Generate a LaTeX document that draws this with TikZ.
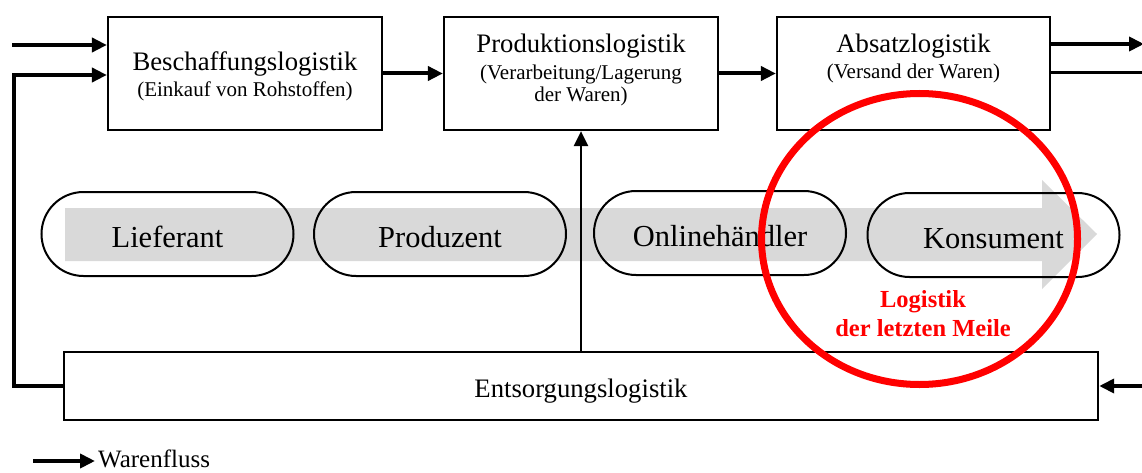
\documentclass[tikz,border=0pt]{standalone}
\usepackage{fontspec}
\setmainfont{Liberation Serif}
\usetikzlibrary{arrows.meta}
\definecolor{bandgray}{HTML}{D9D9D9}
\definecolor{markred}{HTML}{FF0000}
\newcommand\hdfnt{\fontsize{26.7}{30}\selectfont}
\newcommand\subfnt{\fontsize{21}{22}\selectfont}
\newcommand\pillfnt{\fontsize{30.5}{34}\selectfont}
\newcommand\redfnt{\fontsize{24.5}{29}\selectfont\bfseries}

\begin{document}
\begin{tikzpicture}[x=1pt,y=-1pt,
  box/.style={draw,line width=2.2pt,minimum width=#1,minimum height=113pt,inner sep=0pt},
  pill/.style={draw,line width=2pt,rounded corners=42pt,minimum width=252pt,
    minimum height=84pt,inner sep=0pt,text height=26pt,text depth=0pt,font=\pillfnt},
  head/.style={anchor=base,inner sep=0pt,font=\hdfnt},
  sub/.style={anchor=base,inner sep=0pt,font=\subfnt},
  flow/.style={line width=4pt,-{Triangle[length=15pt,width=14pt]}},
  thinflow/.style={line width=2.7pt,-{Triangle[length=15pt,width=14pt]}},
  link/.style={line width=3pt}]

\useasboundingbox (0,0) rectangle (1142,473);

% grey band arrow behind the actors
\fill[bandgray] (65,208) -- (1042,208) -- (1042,180) -- (1097,234)
  -- (1042,289) -- (1042,261) -- (65,261) -- cycle;

% logistics boxes
\node[box=274pt] (b1) at (245,73.5) {};
\node[box=274pt] (b2) at (581,73.5) {};
\node[box=273pt] (b3) at (913.5,73.5) {};
\node[head] (b1t) at (245,71) {Beschaffungslogistik};
\node[sub]  (b1s) at (245,97) {(Einkauf von Rohstoffen)};
\node[head] (b2t) at (581,53) {Produktionslogistik};
\node[sub]  (b2s) at (581,80) {(Verarbeitung/Lagerung};
\node[sub]  (b2u) at (581,102) {der Waren)};
\node[head] (b3t) at (913.5,53) {Absatzlogistik};
\node[sub]  (b3s) at (913.5,79) {(Versand der Waren)};

% disposal box
\node[draw,line width=2.4pt,minimum width=1034pt,minimum height=68pt,inner sep=0pt,
  text height=22pt,text depth=0pt,font=\hdfnt] (e) at (581,386) {Entsorgungslogistik};

% actors
\node[pill] (p1) at (167.5,234) {Lieferant};
\node[pill] (p2) at (440,234) {Produzent};
\node[pill] (p3) at (720,233) {Onlinehändler};
\node[pill] (p4) at (993.5,235) {Konsument};

% free ends of the flows
\coordinate (in1)  at (12,45);
\coordinate (out1) at (1144,44);
\coordinate (out2) at (1142,73);
\coordinate (ret)  at (1142,386);
\coordinate (lc1)  at (14,386);
\coordinate (lc2)  at (14,75);

% flows between the boxes
\draw[flow] (in1) -- (in1 -| b1.west);
\draw[flow] (b1.east) -- (b2.west);
\draw[flow] (b2.east) -- (b3.west);
\draw[flow] (b3.east |- out1) -- (out1);
\draw[link] (b3.east |- out2) -- (out2);
\draw[flow] (ret) -- (e.east |- ret);
\draw[flow] (e.west |- lc1) -- (lc1) -- (lc2) -- (lc2 -| b1.west);
\draw[thinflow] (e.north) -- (b2.south);

% last-mile highlight
\draw[markred,line width=7pt] (919.5,239) ellipse [x radius=158pt, y radius=145.5pt];
\node[anchor=base,inner sep=0pt,align=center,text=markred,font=\redfnt] (lm)
  at (923,336) {Logistik\\der letzten Meile};

% legend
\coordinate (lg) at (33,461);
\node[anchor=base west,inner sep=0pt,font=\fontsize{25}{28}\selectfont] (lgt)
  at (98,467) {Warenfluss};
\draw[flow] (lg) -- ([xshift=-3pt]lgt.west |- lg);
\end{tikzpicture}
\end{document}
